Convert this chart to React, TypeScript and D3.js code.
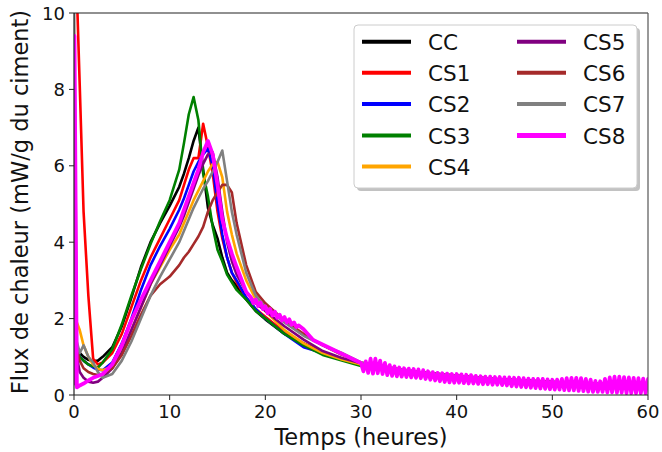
import React from "react";
import * as d3 from "d3";

const T = [0, 0.3, 0.6, 1, 1.5, 2, 2.5, 3, 4, 5, 6, 7, 8, 9, 10, 11, 11.5, 12, 12.5, 13, 13.5, 14, 14.5, 15, 15.5, 16, 16.5, 17, 18, 19, 20, 22, 24, 26, 28, 30, 33, 36, 40, 44, 48, 52, 56, 60];

const CC = [1.5, 1.3, 1.1, 1.0, 0.92, 0.88, 0.9, 1.0, 1.25, 1.8, 2.55, 3.35, 4.0, 4.5, 4.95, 5.45, 5.8, 6.2, 6.65, 7.0, 5.9, 4.9, 4.45, 4.1, 3.6, 3.2, 3.0, 2.85, 2.5, 2.2, 1.98, 1.6, 1.35, 1.12, 0.95, 0.82, 0.7, 0.6, 0.5, 0.42, 0.37, 0.32, 0.28, 0.25];
const CS1 = [10.5, 10.5, 8.1, 4.8, 2.6, 0.95, 0.8, 0.85, 1.1, 1.6, 2.3, 3.0, 3.6, 4.1, 4.6, 5.1, 5.5, 5.9, 6.2, 6.2, 7.1, 6.5, 5.8, 4.8, 4.1, 3.6, 3.2, 2.95, 2.55, 2.25, 2.05, 1.65, 1.35, 1.12, 0.95, 0.8, 0.68, 0.58, 0.48, 0.4, 0.35, 0.3, 0.26, 0.23];
const CS2 = [1.5, 1.2, 1.0, 0.9, 0.8, 0.72, 0.66, 0.65, 0.85, 1.35, 2.0, 2.75, 3.4, 3.9, 4.35, 4.85, 5.15, 5.5, 5.85, 6.1, 6.3, 6.45, 6.0, 5.0, 4.2, 3.6, 3.2, 3.0, 2.55, 2.25, 2.0, 1.6, 1.25, 1.1, 0.93, 0.8, 0.68, 0.58, 0.47, 0.4, 0.34, 0.3, 0.26, 0.23];
const CS3 = [1.4, 1.2, 1.0, 0.9, 0.8, 0.75, 0.72, 0.85, 1.2, 1.85, 2.6, 3.3, 3.95, 4.55, 5.1, 5.9, 6.6, 7.35, 7.8, 7.2, 5.8, 5.2, 4.4, 3.8, 3.5, 3.15, 2.95, 2.75, 2.5, 2.2, 2.0, 1.6, 1.3, 1.05, 0.9, 0.76, 0.65, 0.56, 0.46, 0.4, 0.35, 0.3, 0.26, 0.23];
const CS4 = [2.0, 1.9, 1.7, 1.3, 1.0, 0.8, 0.68, 0.65, 0.75, 1.15, 1.7, 2.3, 2.9, 3.35, 3.8, 4.2, 4.5, 4.8, 5.1, 5.35, 5.6, 5.85, 6.05, 6.1, 5.7, 4.8, 4.2, 3.7, 3.0, 2.5, 2.2, 1.7, 1.35, 1.1, 0.93, 0.8, 0.68, 0.58, 0.47, 0.4, 0.35, 0.3, 0.26, 0.22];
const CS5 = [1.3, 1.0, 0.6, 0.45, 0.35, 0.32, 0.35, 0.45, 0.7, 1.1, 1.7, 2.3, 2.9, 3.4, 3.9, 4.4, 4.7, 5.05, 5.4, 5.75, 6.05, 6.3, 6.35, 5.7, 4.8, 4.0, 3.5, 3.15, 2.7, 2.4, 2.2, 1.8, 1.45, 1.15, 0.97, 0.83, 0.7, 0.6, 0.5, 0.42, 0.36, 0.3, 0.27, 0.24];
const CS6 = [1.5, 1.2, 0.9, 0.7, 0.6, 0.55, 0.52, 0.55, 0.7, 1.05, 1.55, 2.1, 2.6, 2.9, 3.1, 3.4, 3.6, 3.75, 3.95, 4.15, 4.4, 4.8, 5.1, 5.3, 5.5, 5.5, 5.3, 4.5, 3.4, 2.7, 2.4, 1.95, 1.6, 1.3, 1.05, 0.85, 0.72, 0.6, 0.5, 0.42, 0.36, 0.3, 0.27, 0.24];
const CS7 = [10.5, 1.4, 1.1, 1.3, 1.0, 0.85, 0.6, 0.45, 0.55, 0.9, 1.4, 2.0, 2.6, 3.1, 3.55, 4.0, 4.3, 4.6, 4.9, 5.15, 5.4, 5.6, 5.85, 6.1, 6.4, 5.6, 4.8, 4.2, 3.2, 2.6, 2.3, 1.9, 1.55, 1.3, 1.1, 0.85, 0.72, 0.6, 0.5, 0.42, 0.36, 0.3, 0.27, 0.24];

// CS8: main part, then noisy band (hand-read, 0.25 h steps)
const CS8_T = [0, 0.05, 0.3, 0.6, 1, 1.5, 2, 2.5, 3, 4, 5, 6, 7, 8, 9, 10, 11, 11.5, 12, 12.5, 13, 13.5, 14, 14.5, 15, 15.5, 16, 16.5, 17, 18,
  18.5, 18.75, 19, 19.25, 19.5, 19.75, 20, 20.25, 20.5, 20.75, 21, 21.25, 21.5, 21.75, 22, 22.25, 22.5, 22.75, 23, 23.25, 23.5, 24, 25, 30,
  30.25, 30.5, 30.75, 31, 31.25, 31.5, 31.75, 32, 32.25, 32.5, 32.75, 33, 33.25, 33.5, 33.75, 34, 34.25, 34.5, 34.75, 35, 35.25, 35.5, 35.75,
  36, 36.25, 36.5, 36.75, 37, 37.25, 37.5, 37.75, 38, 38.25, 38.5, 38.75, 39, 39.25, 39.5, 39.75, 40, 40.25, 40.5, 40.75, 41, 41.25, 41.5, 41.75,
  42, 42.25, 42.5, 42.75, 43, 43.25, 43.5, 43.75, 44, 44.25, 44.5, 44.75, 45, 45.25, 45.5, 45.75, 46, 46.25, 46.5, 46.75, 47, 47.25, 47.5, 47.75,
  48, 48.25, 48.5, 48.75, 49, 49.25, 49.5, 49.75, 50, 50.25, 50.5, 50.75, 51, 51.25, 51.5, 51.75, 52, 52.25, 52.5, 52.75, 53, 53.25, 53.5, 53.75,
  54, 54.25, 54.5, 54.75, 55, 55.25, 55.5, 55.75, 56, 56.25, 56.5, 56.75, 57, 57.25, 57.5, 57.75, 58, 58.25, 58.5, 58.75, 59, 59.25, 59.5, 59.75, 60];
const CS8 = [0.3, 9.4, 0.2, 0.25, 0.3, 0.38, 0.45, 0.5, 0.55, 0.8, 1.3, 1.95, 2.5, 3.0, 3.5, 4.0, 4.5, 4.85, 5.2, 5.55, 5.9, 6.35, 6.65, 6.3, 5.5, 4.6, 4.1, 3.7, 3.35, 2.7,
  2.55, 2.4, 2.5, 2.33, 2.42, 2.25, 2.32, 2.14, 2.25, 2.08, 2.18, 2.02, 2.1, 1.95, 2.04, 1.9, 1.98, 1.84, 1.9, 1.78, 1.82, 1.72, 1.44, 0.84,
  0.62, 0.88, 0.58, 0.95, 0.56, 0.95, 0.57, 0.9, 0.55, 0.84, 0.52, 0.78, 0.5, 0.75, 0.49, 0.72, 0.48, 0.7, 0.47, 0.69, 0.46, 0.68, 0.45,
  0.67, 0.44, 0.65, 0.42, 0.62, 0.4, 0.6, 0.38, 0.58, 0.36, 0.57, 0.34, 0.56, 0.33, 0.55, 0.32, 0.55, 0.32, 0.54, 0.31, 0.53, 0.3, 0.52, 0.3,
  0.5, 0.29, 0.49, 0.28, 0.48, 0.28, 0.48, 0.27, 0.47, 0.27, 0.47, 0.26, 0.46, 0.25, 0.46, 0.23, 0.45, 0.22, 0.45, 0.21, 0.44, 0.2, 0.43, 0.19,
  0.42, 0.18, 0.42, 0.17, 0.42, 0.16, 0.41, 0.15, 0.4, 0.14, 0.4, 0.14, 0.42, 0.13, 0.44, 0.12, 0.45, 0.12, 0.45, 0.11, 0.44, 0.1, 0.42, 0.09,
  0.4, 0.08, 0.37, 0.08, 0.36, 0.08, 0.42, 0.07, 0.46, 0.07, 0.48, 0.06, 0.48, 0.06, 0.47, 0.05, 0.46, 0.05, 0.45, 0.05, 0.44, 0.05, 0.43, 0.05, 0.42];

const SERIES_NAMES = ["CC", "CS1", "CS2", "CS3", "CS4", "CS5", "CS6", "CS7", "CS8"];
const SERIES_COLORS = ["#000000", "#ff0000", "#0000ff", "#008000", "#ffa500", "#800080", "#a52a2a", "#808080", "#ff00ff"];
const X_TICKS = [0, 10, 20, 30, 40, 50, 60];
const Y_TICKS = [0, 2, 4, 6, 8, 10];

const W = 662, H = 452;
const M = { left: 74, right: 648, top: 13, bottom: 395 };
const FONT = "'DejaVu Sans', sans-serif";

export default function App() {
  const x = d3.scaleLinear().domain([0, 60]).range([M.left, M.right]);
  const y = d3.scaleLinear().domain([0, 10]).range([M.bottom, M.top]);
  const line = d3.line<[number, number]>().x((d) => x(d[0])).y((d) => y(d[1]));

  const values = [CC, CS1, CS2, CS3, CS4, CS5, CS6, CS7];
  const series = values.map((v, i) => ({
    name: SERIES_NAMES[i],
    color: SERIES_COLORS[i],
    pts: T.map((t, j) => [t, v[j]] as [number, number]),
    w: 2.6,
  }));
  series.push({
    name: "CS8",
    color: SERIES_COLORS[8],
    pts: CS8_T.map((t, j) => [t, CS8[j]] as [number, number]),
    w: 3.8,
  });

  const legendRows = [41.7, 72.7, 104, 135.5, 166.5];
  const legendCols = [{ lx: 362, tx: 428 }, { lx: 517, tx: 583 }];

  return (
    <svg width={W} height={H} style={{ position: "absolute", left: 0, top: 0, background: "#fff" }} fontFamily={FONT}>
      <defs>
        <clipPath id="plot">
          <rect x={M.left} y={M.top} width={M.right - M.left} height={M.bottom - M.top} />
        </clipPath>
      </defs>
      <rect x={0} y={0} width={W} height={H} fill="#fff" />
      <g clipPath="url(#plot)" fill="none" strokeLinejoin="round" strokeLinecap="round">
        {series.map((s) => (
          <path key={s.name} d={line(s.pts) || ""} stroke={s.color} strokeWidth={s.w} />
        ))}
      </g>
      {/* spines */}
      <line x1={M.left} x2={M.right} y1={M.top} y2={M.top} stroke="#222" strokeWidth={1.2} />
      <line x1={M.right} x2={M.right} y1={M.top} y2={M.bottom} stroke="#555" strokeWidth={1.2} />
      <line x1={M.left} x2={M.left} y1={M.top} y2={M.bottom} stroke="#222" strokeWidth={1.2} />
      <line x1={M.left} x2={M.right} y1={M.bottom} y2={M.bottom} stroke="#222" strokeWidth={1.2} />
      {/* x ticks */}
      {X_TICKS.map((t) => (
        <g key={"x" + t}>
          <line x1={x(t)} x2={x(t)} y1={M.bottom} y2={M.bottom + 5} stroke="#222" strokeWidth={1} />
          <text x={x(t)} y={M.bottom + 23} textAnchor="middle" fontSize={18} fill="#111">{t}</text>
        </g>
      ))}
      {Y_TICKS.map((t) => (
        <g key={"y" + t}>
          <line x1={M.left - 5} x2={M.left} y1={y(t)} y2={y(t)} stroke="#222" strokeWidth={1} />
          <text x={M.left - 9} y={y(t) + 6.5} textAnchor="end" fontSize={18} fill="#111">{t}</text>
        </g>
      ))}
      <text x={361} y={445} textAnchor="middle" fontSize={22.5} fill="#111">Temps (heures)</text>
      <text transform={`translate(28,${202}) rotate(-90)`} textAnchor="middle" fontSize={22.5} fill="#111">
        Flux de chaleur (mW/g du ciment)
      </text>
      {/* legend */}
      <rect x={357} y={28} width={283} height={163} rx={4} fill="#999" opacity={0.6} />
      <rect x={354} y={25} width={283} height={163} rx={4} fill="#fff" stroke="#ccc" strokeWidth={1} />
      {series.map((s, i) => {
        const col = i < 5 ? 0 : 1;
        const row = i < 5 ? i : i - 5;
        const c = legendCols[col];
        const ry = legendRows[row];
        return (
          <g key={"lg" + s.name}>
            <line x1={c.lx} x2={c.lx + 49} y1={ry} y2={ry} stroke={s.color} strokeWidth={s.name === "CS8" ? 5 : 4} />
            <text x={c.tx} y={ry + 8} fontSize={21.5} fill="#111">{s.name}</text>
          </g>
        );
      })}
    </svg>
  );
}
